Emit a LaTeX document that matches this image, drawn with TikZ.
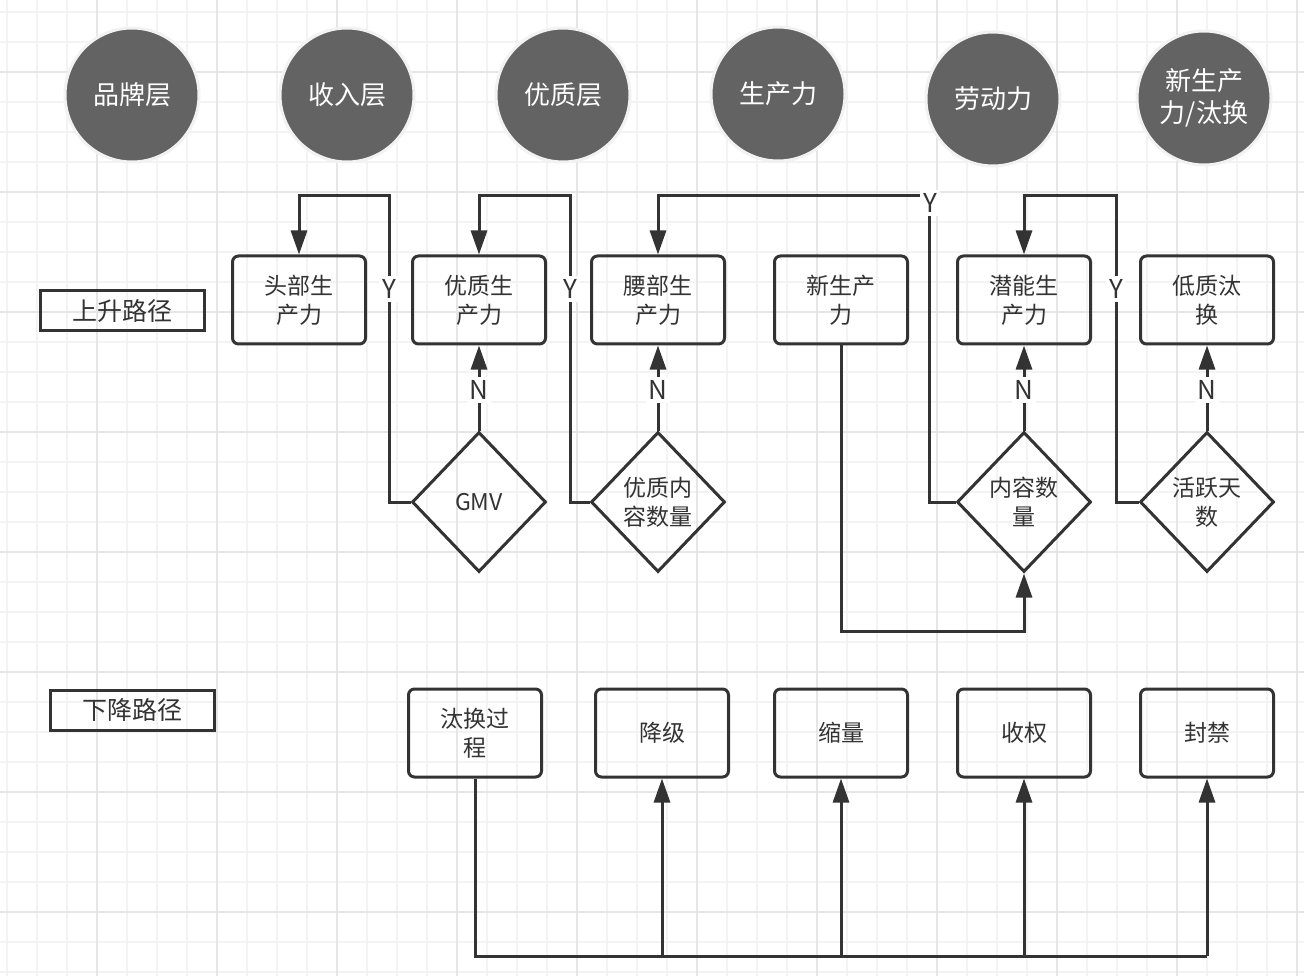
\documentclass[tikz,border=0pt]{standalone}
\usepackage{fontspec}
\setmainfont{Noto Sans CJK SC}
\usetikzlibrary{shapes.geometric,arrows.meta}
\definecolor{ink}{HTML}{333333}
\definecolor{disk}{HTML}{636363}
\definecolor{gridminor}{HTML}{F3F3F3}
\definecolor{gridmajor}{HTML}{E6E6E6}

\begin{document}
\begin{tikzpicture}[
		x=1pt, y=-1pt,
		every node/.style={font=\fontsize{23}{29}\selectfont, text=ink},
		layer/.style={circle, fill=disk, draw=gray!10, line width=3pt, minimum size=134pt, inner sep=0pt, text=white, font=\fontsize{26}{32}\selectfont, align=center},
		pathbox/.style={draw=ink, line width=3pt, minimum width=164pt, minimum height=40pt, inner sep=0pt, font=\fontsize{25}{30}\selectfont},
		stage/.style={draw=ink, line width=3pt, rounded corners=6pt, minimum width=133pt, minimum height=88pt, align=center, inner sep=0pt},
		check/.style={diamond, draw=ink, line width=3pt, minimum width=134pt, minimum height=140pt, align=center, inner sep=0pt},
		yn/.style={fill=white, inner sep=3pt, font=\fontsize{26}{30}\selectfont},
		link/.style={draw=ink, line width=3pt},
		flow/.style={link, -{Triangle[length=24pt,width=16pt]}}
		]
		\useasboundingbox (0,0) rectangle (1304,976);
		\fill[white] (0,0) rectangle (1304,976);
		\foreach \x in {7,37,...,1304} \draw[gridminor, line width=1.5pt] (\x,0) -- (\x,976);
		\foreach \y in {12,42,...,976} \draw[gridminor, line width=1.5pt] (0,\y) -- (1304,\y);
		\foreach \x in {97,217,...,1304} \draw[gridmajor, line width=1.5pt] (\x,0) -- (\x,976);
		\foreach \y in {72,192,...,976} \draw[gridmajor, line width=1.5pt] (0,\y) -- (1304,\y);
		
		\node[layer] (l1) at (132,95) {品牌层};
		\node[layer] (l2) at (347,95) {收入层};
		\node[layer] (l3) at (563,95) {优质层};
		\node[layer] (l4) at (778,94) {生产力};
		\node[layer] (l5) at (993,99) {劳动力};
		\node[layer] (l6) at (1204,98) {新生产\\力/汰换};
		
		\node[pathbox] (up) at (122,311) {上升路径};
		\node[pathbox] (down) at (132,710) {下降路径};
		
		\node[stage] (b1) at (299,300) {头部生\\产力};
		\node[stage] (b2) at (479,300) {优质生\\产力};
		\node[stage] (b3) at (658,300) {腰部生\\产力};
		\node[stage] (b4) at (841,300) {新生产\\力};
		\node[stage] (b5) at (1024,300) {潜能生\\产力};
		\node[stage] (b6) at (1207,300) {低质汰\\换};
		
		\node[check] (d1) at (479,502) {GMV};
		\node[check] (d2) at (658,502) {优质内\\容数量};
		\node[check] (d3) at (1024,502) {内容数\\量};
		\node[check] (d4) at (1207,502) {活跃天\\数};
		
		\node[stage] (e1) at (475,733) {汰换过\\程};
		\node[stage] (e2) at (662,733) {降级};
		\node[stage] (e3) at (841,733) {缩量};
		\node[stage] (e4) at (1024,733) {收权};
		\node[stage] (e5) at (1207,733) {封禁};
		
		\coordinate (c1) at (389,196);
		\coordinate (c2) at (570,196);
		\coordinate (c3) at (929,196);
		\coordinate (c4) at (1116,196);
		\coordinate (turn) at (1024,631);
		\coordinate (bl) at (475,956);
		\coordinate (br) at (1207,956);
		
		\draw[flow] (d1.west) -| (c1) -| (b1.north);
		\draw[flow] (d2.west) -| (c2) -| (b2.north);
		\draw[flow] (d3.west) -| (c3) -| (b3.north);
		\draw[flow] (d4.west) -| (c4) -| (b5.north);
		\draw[flow] (d1.north) -- (b2.south);
		\draw[flow] (d2.north) -- (b3.south);
		\draw[flow] (d3.north) -- (b5.south);
		\draw[flow] (d4.north) -- (b6.south);
		\draw[flow] (b4.south) |- (turn) -- (d3.south);
		
		\node[yn] (y1) at (389,289) {Y};
		\node[yn] (y2) at (570,289) {Y};
		\node[yn] (y3) at (930,203) {Y};
		\node[yn] (y4) at (1116,289) {Y};
		\node[yn] (n1) at (479,390) {N};
		\node[yn] (n2) at (658,390) {N};
		\node[yn] (n3) at (1024,390) {N};
		\node[yn] (n4) at (1207,390) {N};
		
		\draw[link] (e1.south) |- (br);
		\foreach \n in {e2,e3,e4,e5}
			\draw[flow] (\n.south |- bl) -- (\n.south);
	\end{tikzpicture}
\end{document}
